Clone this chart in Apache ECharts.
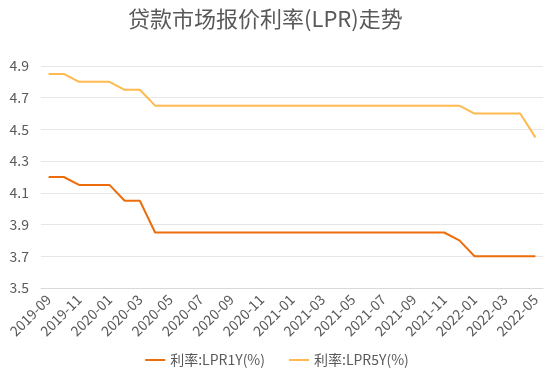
<!DOCTYPE html>
<html>
<head>
<meta charset="utf-8">
<script src="https://cdn.jsdelivr.net/npm/echarts@6/dist/echarts.min.js"></script>
<style>
  html, body { margin: 0; padding: 0; background: #fff; }
  #chart { width: 554px; height: 377px; }
</style>
</head>
<body>
<div id="chart"></div>
<script>
// months from 2019-09 to 2022-05
var MONTHS = [
  '2019-09', '2019-10', '2019-11', '2019-12',
  '2020-01', '2020-02', '2020-03', '2020-04', '2020-05', '2020-06',
  '2020-07', '2020-08', '2020-09', '2020-10', '2020-11', '2020-12',
  '2021-01', '2021-02', '2021-03', '2021-04', '2021-05', '2021-06',
  '2021-07', '2021-08', '2021-09', '2021-10', '2021-11', '2021-12',
  '2022-01', '2022-02', '2022-03', '2022-04', '2022-05'
];
var LPR1Y = [
  4.20, 4.20, 4.15, 4.15,
  4.15, 4.05, 4.05, 3.85, 3.85, 3.85,
  3.85, 3.85, 3.85, 3.85, 3.85, 3.85,
  3.85, 3.85, 3.85, 3.85, 3.85, 3.85,
  3.85, 3.85, 3.85, 3.85, 3.85, 3.80,
  3.70, 3.70, 3.70, 3.70, 3.70
];
var LPR5Y = [
  4.85, 4.85, 4.80, 4.80,
  4.80, 4.75, 4.75, 4.65, 4.65, 4.65,
  4.65, 4.65, 4.65, 4.65, 4.65, 4.65,
  4.65, 4.65, 4.65, 4.65, 4.65, 4.65,
  4.65, 4.65, 4.65, 4.65, 4.65, 4.65,
  4.60, 4.60, 4.60, 4.60, 4.45
];

var FONT = '"Noto Sans CJK SC", "Noto Sans", sans-serif';
var chart = echarts.init(document.getElementById('chart'), null, { renderer: 'canvas' });

chart.setOption({
  animation: false,
  title: {
    text: '贷款市场报价利率(LPR)走势',
    left: 123,
    top: 3,
    textStyle: { fontFamily: FONT, fontSize: 22, fontWeight: 'normal', color: '#595959' }
  },
  grid: { left: 41, right: 11, top: 66, bottom: 89, containLabel: false },
  legend: {
    bottom: 5,
    left: 'center',
    itemGap: 24,
    itemWidth: 20,
    itemHeight: 2,
    icon: 'rect',
    textStyle: { fontFamily: FONT, fontSize: 14, color: '#595959' },
    data: ['利率:LPR1Y(%)', '利率:LPR5Y(%)']
  },
  xAxis: {
    type: 'category',
    data: MONTHS,
    boundaryGap: true,
    axisLine: { lineStyle: { color: '#d9d9d9' } },
    axisTick: { length: 5, lineStyle: { color: '#d9d9d9' } },
    axisLabel: {
      interval: 1,
      rotate: 45,
      margin: 9,
      fontFamily: FONT,
      fontSize: 14,
      color: '#595959'
    }
  },
  yAxis: {
    type: 'value',
    min: 3.5,
    max: 4.9,
    interval: 0.2,
    axisLine: { show: false },
    axisTick: { show: false },
    axisLabel: {
      margin: 12,
      fontFamily: FONT,
      fontSize: 14,
      color: '#595959',
      formatter: function (v) { return v.toFixed(1); }
    },
    splitLine: { lineStyle: { color: '#e6e6e6' } }
  },
  series: [
    {
      name: '利率:LPR1Y(%)',
      type: 'line',
      data: LPR1Y,
      symbol: 'none',
      lineStyle: { width: 2, color: '#ED6D0C' },
      itemStyle: { color: '#ED6D0C' }
    },
    {
      name: '利率:LPR5Y(%)',
      type: 'line',
      data: LPR5Y,
      symbol: 'none',
      lineStyle: { width: 2, color: '#FFB94F' },
      itemStyle: { color: '#FFB94F' }
    }
  ]
});
</script>
</body>
</html>
